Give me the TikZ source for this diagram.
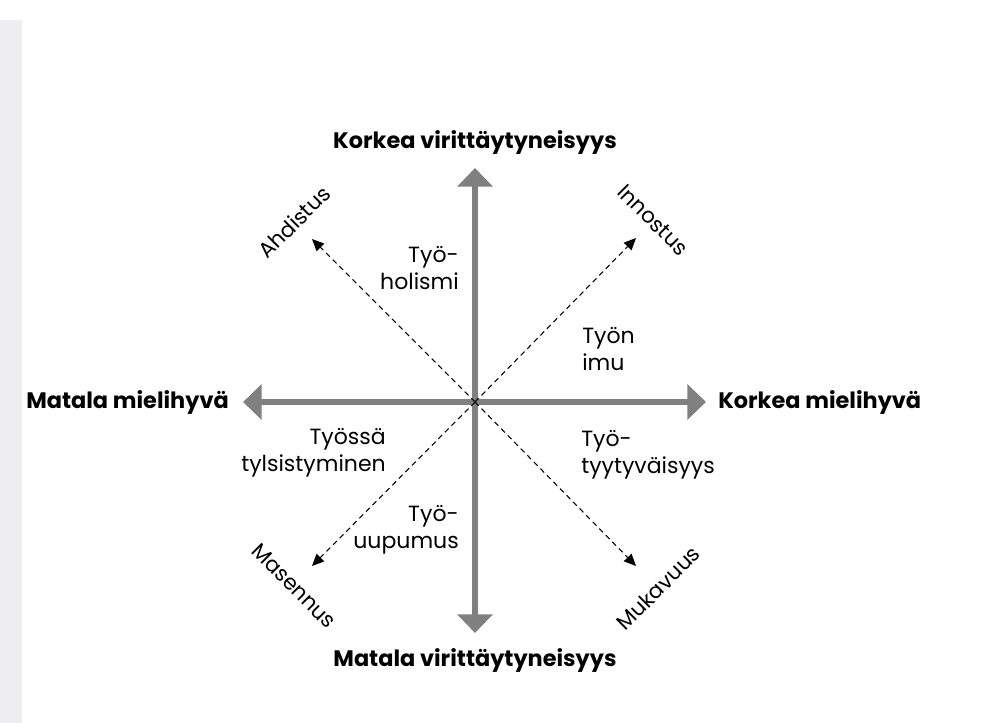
\documentclass[tikz,border=0pt]{standalone}
\usepackage{fontspec}
\setmainfont{Poppins}
\usetikzlibrary{arrows.meta,positioning}
\definecolor{axisgray}{RGB}{128,128,128}
\definecolor{scanedge}{RGB}{238,238,240}
\tikzset{
  axisarrow/.style={draw=axisgray, line width=5pt, {Triangle[width=26pt,length=14pt]}-{Triangle[width=26pt,length=14pt]}},
  diagarrow/.style={draw=black, line width=0.8pt, dash pattern=on 4pt off 3pt, -{Triangle[width=8pt,length=9pt]}},
  axislabel/.style={font=\fontsize{16.8}{19}\selectfont\bfseries, inner sep=0pt},
  quadlabel/.style={font=\fontsize{16.5}{20.5}\selectfont, inner sep=0pt},
  cornerlabel/.style={font=\fontsize{16}{18}\selectfont, inner sep=0pt}
}
\begin{document}
\begin{tikzpicture}[x=0.75pt,y=-0.75pt]
    % page
    \fill[white] (0,0) rectangle (991,723);
    \useasboundingbox (0,0) rectangle (991,723);
    \fill[scanedge] (0,20) rectangle (22,723);

    % centre and axis ends
    \coordinate (o) at (475,402);
    \coordinate (vtop) at (475,168);
    \coordinate (vbot) at (475,633);
    \coordinate (hleft) at (243,402);
    \coordinate (hright) at (706,402);

    % axes
    \draw[axisarrow] (vbot) -- (vtop);
    \draw[axisarrow] (hleft) -- (hright);

    % axis labels
    \node[axislabel] (korkeav) at (475,142) {Korkea virittäytyneisyys};
    \node[axislabel] (matalav) at (475,660) {Matala virittäytyneisyys};
    \node[axislabel, anchor=east] (matalam) at (229,402) {Matala mielihyvä};
    \node[axislabel, anchor=west] (korkeam) at (718,402) {Korkea mielihyvä};

    % diagonal ends
    \coordinate (ahd) at (312,239);
    \coordinate (inn) at (636,238);
    \coordinate (mas) at (312,566);
    \coordinate (muk) at (636,566);
    \draw[diagarrow] (o) -- (ahd);
    \draw[diagarrow] (o) -- (inn);
    \draw[diagarrow] (o) -- (mas);
    \draw[diagarrow] (o) -- (muk);

    % corner labels
    \node[cornerlabel, rotate=45] (ahdistus) at (294,222) {Ahdistus};
    \node[cornerlabel, rotate=-45] (innostus) at (653,220) {Innostus};
    \node[cornerlabel, rotate=-45] (masennus) at (294,586) {Masennus};
    \node[cornerlabel, rotate=45] (mukavuus) at (658,588) {Mukavuus};

    % quadrant labels
    \node[quadlabel, anchor=east, align=right] (holismi) at (459,268) {Työ-\\holismi};
    \node[quadlabel, anchor=west, align=left] (imu) at (582,349) {Työn\\imu};
    \node[quadlabel, anchor=east, align=right] (tylsistyminen) at (386,453) {Työssä\\tylsistyminen};
    \node[quadlabel, anchor=west, align=left] (tyytyvaisyys) at (581,455) {Työ-\\tyytyväisyys};
    \node[quadlabel, anchor=east, align=right] (uupumus) at (459,530) {Työ-\\uupumus};
\end{tikzpicture}
\end{document}
